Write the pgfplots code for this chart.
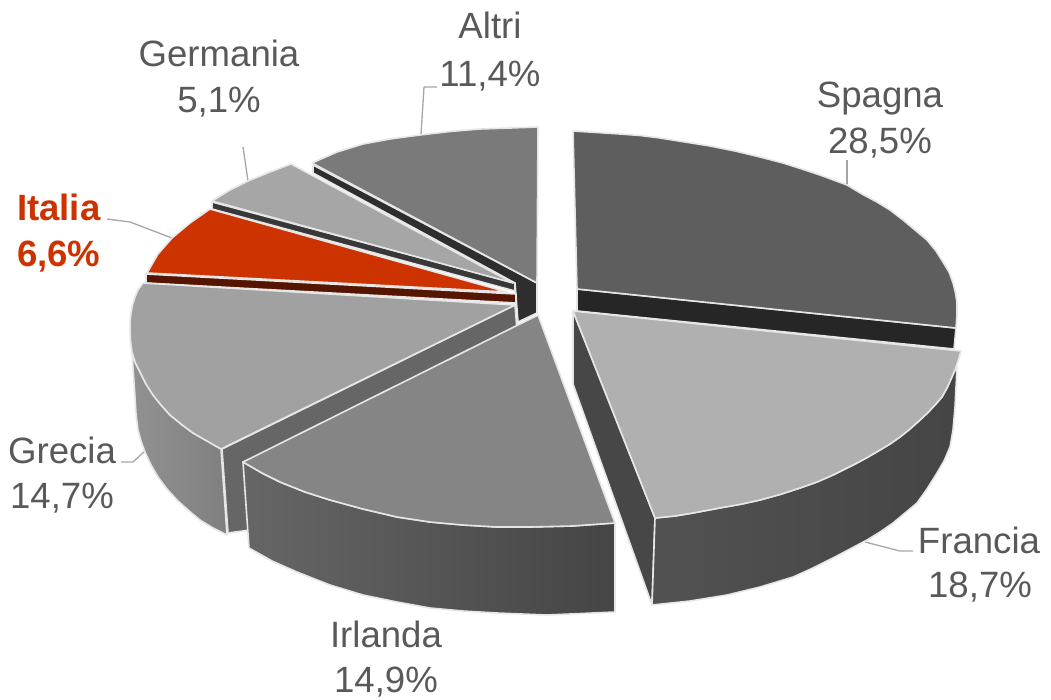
\documentclass[border=0pt]{standalone}
\usepackage{pgfplots}
\pgfplotsset{compat=1.18}
\usepackage{fontspec}
\setmainfont{Liberation Sans}
\definecolor{edge}{HTML}{E6E6E6}
\definecolor{lab}{HTML}{595959}
\definecolor{lead}{HTML}{A6A6A6}
\definecolor{ital}{HTML}{CC3300}
\tikzset{lbl/.style={font=\fontsize{36.6}{44}\selectfont, text=lab, anchor=base, inner sep=0pt, outer sep=0pt}}
\begin{document}
\begin{tikzpicture}
\begin{axis}[
  hide axis, scale only axis, width=1051pt, height=699pt,
  xmin=0, xmax=1051, ymin=0, ymax=699, y dir=reverse, clip=false,
  no markers,
  every axis plot/.append style={line join=round},
  face/.style={draw=edge, line width=1.6pt, solid},
  ldr/.style={draw=lead, line width=1.3pt}
]
\addplot[draw=none] coordinates {(0,0)(1051,699)};
% leaders
\addplot[ldr] coordinates {(847,185)(847,160)};
\addplot[ldr] coordinates {(865,542)(900,551)(913,551)};
\addplot[ldr] coordinates {(121,462)(133,462)(145,451)};
\addplot[ldr] coordinates {(248,181)(243,147)};
\addplot[ldr] coordinates {(172,238)(130,222)(107,219)};
\addplot[ldr] coordinates {(421,135)(424,87)(437,87)};
% Spagna
\addplot[face, fill=black!85] coordinates {(577,289)(956,328)(954,349)(577,311)} --cycle;
\addplot[face, fill=black!63] coordinates {(573,131)(620,134)(640,135.5)(660,138)(685,142)(710,146)(735,151)(760,157)(783,163)(805,170)(820,175)(847,185)(862,194)(877,202)(890,210)(903,220)(915,230)(927,240)(936,251)(943,262)(949,272)(953,283)(955.5,293)(957,303)(957,315)(956,328)(577,289)} --cycle;
% centre post and Altri
\addplot[face, fill=black!82] coordinates {(313,165)(537,283)(537,313)(518,322)(515,283)(313,173)} --cycle;
\addplot[face, fill=black!52] coordinates {(312,163)(337,152)(363,144)(390,139)(420,135)(450,131.5)(480,129)(510,128)(538,127)(537,283)} --cycle;
% Germania
\addplot[face, fill=black!78] coordinates {(212,202)(515,283)(515,291)(212,209)} --cycle;
\addplot[face, fill=black!35] coordinates {(291,164)(270,172)(248,181)(230,190)(212,201)(513,283)} --cycle;
% Italia
\addplot[face, fill={rgb,255:red,85;green,21;blue,0}] coordinates {(146,274)(516,294)(516,303)(146,283)} --cycle;
\addplot[face, fill=ital] coordinates {(210,209)(190,223)(172,238)(158,254)(147,273)(507,292)} --cycle;
% Grecia
\addplot[face, fill=black!60] coordinates {(222,449)(515,305)(517,330)(250,530)(228,533)} --cycle;
\addplot[draw=edge, line width=1.6pt, left color=black!43, right color=black!50] coordinates {(132,353)(133.5,375)(135,397)(136,414)(138,430)(141,441)(145,452)(151,465)(158,477)(167,489)(177,500)(188,510)(200,520)(213,528)(227,535)(221,449)(207,441)(193,433)(181,424)(170,415)(161,405)(153,395)(146,384)(140,372)(135,362)} --cycle;
\addplot[face, fill=black!37] coordinates {(143,283)(138,290)(135,297)(132.5,305)(131,313)(130,322)(130,330)(130.5,341)(132,352)(135,362)(140,372)(146,384)(153,395)(161,405)(170,415)(181,424)(193,433)(207,441)(221,449)(515,305)} --cycle;
% Francia
\addplot[face, fill=black!72] coordinates {(573,311)(655,518)(652,605)(573,384)} --cycle;
\addplot[draw=edge, line width=1.6pt, left color=black!68, right color=black!73] coordinates {(655,518)(652,605)(690,601)(727,595)(760,587)(793,577)(813,568)(833,558)(850,549)(867,540)(880,532)(893,523)(905,513)(917,503)(927,489)(937,473)(944,461)(950,447)(953,430)(955,407)(956,387)(957,367)(955,370)(947,388)(942,397)(935,405)(928,412.5)(920,420)(910,429)(900,437)(890,444)(880,450)(868,457)(857,463)(845,469)(833,475)(817,482)(800,488)(780,494.5)(760,500)(742,504)(725,507)(709,510)(693,513)(675,516)} --cycle;
\addplot[face, fill=black!31] coordinates {(573,311)(961,351)(958,361)(955,370)(951,379)(947,388)(942,397)(935,405)(928,412.5)(920,420)(910,429)(900,437)(890,444)(880,450)(868,457)(857,463)(845,469)(833,475)(817,482)(800,488)(780,494.5)(760,500)(742,504)(725,507)(709,510)(693,513)(675,516)(655,518)} --cycle;
% Irlanda
\addplot[draw=edge, line width=1.6pt, left color=black!60, right color=black!73] coordinates {(243,462)(249,548)(272,561)(297,572)(330,585)(363,595)(397,602)(430,608)(463,611)(497,613)(547,615)(615,612)(615,523)(572,526)(530,527)(497,527)(463,525)(430,522)(397,517)(363,509)(330,500)(305,492)(280,482)(262,473)} --cycle;
\addplot[face, fill=black!48] coordinates {(538,315)(243,462)(262,473)(280,482)(305,492)(330,500)(363,509)(397,517)(430,522)(463,525)(497,527)(530,527)(572,526)(615,523)} --cycle;
% labels
\node[lbl] at (axis cs:880,107) {Spagna};
\node[lbl] at (axis cs:880,153) {28,5\%};
\node[lbl] at (axis cs:979,553) {Francia};
\node[lbl] at (axis cs:980,597) {18,7\%};
\node[lbl] at (axis cs:386,647) {Irlanda};
\node[lbl] at (axis cs:386,692) {14,9\%};
\node[lbl] at (axis cs:62,463) {Grecia};
\node[lbl] at (axis cs:62,508) {14,7\%};
\node[lbl] at (axis cs:219,66) {Germania};
\node[lbl] at (axis cs:219,112) {5,1\%};
\node[lbl] at (axis cs:490,38) {Altri};
\node[lbl] at (axis cs:490,86) {11,4\%};
\node[lbl, text=ital, anchor=base west] at (axis cs:17,220) {\bfseries Italia};
\node[lbl, text=ital, anchor=base west] at (axis cs:17,266) {\bfseries 6,6\%};
\end{axis}
\end{tikzpicture}
\end{document}
